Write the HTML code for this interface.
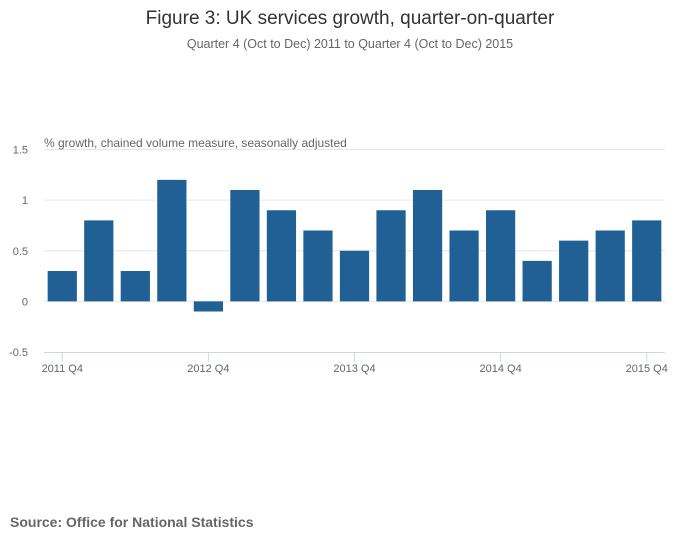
<!DOCTYPE html>
<html><head><meta charset="utf-8"><style>
body{margin:0;background:#fff;font-family:"Liberation Sans",sans-serif;}
svg text{font-family:"Liberation Sans",sans-serif;}
</style></head><body>
<svg width="700" height="549" xmlns="http://www.w3.org/2000/svg">
<rect width="700" height="549" fill="#fff"/>
<text x="350" y="24" text-anchor="middle" font-size="19" fill="#333">Figure 3: UK services growth, quarter-on-quarter</text>
<text x="350" y="48" text-anchor="middle" font-size="12.5" fill="#666">Quarter 4 (Oct to Dec) 2011 to Quarter 4 (Oct to Dec) 2015</text>
<g id="grid"></g>
<g id="bars"></g>
<g id="axes"></g>
<text x="44" y="147" font-size="12" fill="#666">% growth, chained volume measure, seasonally adjusted</text>
<text x="10" y="527" font-size="14" font-weight="bold" fill="#666">Source: Office for National Statistics</text>
</svg>
<script>
const categories=["2011 Q4","2012 Q1","2012 Q2","2012 Q3","2012 Q4","2013 Q1","2013 Q2","2013 Q3","2013 Q4","2014 Q1","2014 Q2","2014 Q3","2014 Q4","2015 Q1","2015 Q2","2015 Q3","2015 Q4"];
const values=[0.3,0.8,0.3,1.2,-0.1,1.1,0.9,0.7,0.5,0.9,1.1,0.7,0.9,0.4,0.6,0.7,0.8];
const yTicks=[-0.5,0,0.5,1,1.5];
const yTickLabels=["-0.5","0","0.5","1","1.5"];
const xTickLabels=["2011 Q4","2012 Q4","2013 Q4","2014 Q4","2015 Q4"];
const NS="http://www.w3.org/2000/svg";
const x0=44,x1=665,yMin=-0.5,yMax=1.5,pTop=149.5,pBot=352;
const step=(x1-x0)/categories.length;
const y=v=>pBot-(v-yMin)/(yMax-yMin)*(pBot-pTop);
const xc=i=>x0+step*(i+0.5);
function mk(t,a,p){const e=document.createElementNS(NS,t);for(const k in a)e.setAttribute(k,a[k]);p.appendChild(e);return e;}
const grid=document.getElementById('grid'),bars=document.getElementById('bars'),axes=document.getElementById('axes');
yTicks.forEach((v,i)=>{
 if(v!==yMin){const l=mk('line',{x1:x0,x2:x1,y1:y(v),y2:y(v),stroke:'#e6e6e6','stroke-width':1},grid);
 
 }
 const t=mk('text',{x:28,y:y(v)+4,'text-anchor':'end','font-size':11,fill:'#666'},axes);t.textContent=yTickLabels[i];
 
 
});
values.forEach((v,i)=>{
 const w=step*0.8;
 const r=mk('rect',{x:xc(i)-w/2,y:Math.min(y(v),y(0)),width:w,height:Math.abs(y(v)-y(0)),fill:'#206095'},bars);
 
 
});
const ax=mk('line',{x1:x0,x2:x1,y1:pBot+0.5,y2:pBot+0.5,stroke:'#ccd6eb','stroke-width':1},axes);


xTickLabels.forEach(lbl=>{
 const i=categories.indexOf(lbl);const xx=xc(i);
 const tk=mk('line',{x1:xx,x2:xx,y1:pBot,y2:pBot+10,stroke:'#ccd6eb'},axes);
 
 
 const t=mk('text',{x:xx,y:pBot+20,'text-anchor':'middle','font-size':11,fill:'#666'},axes);t.textContent=lbl;
 
 
});
</script>
</body></html>
